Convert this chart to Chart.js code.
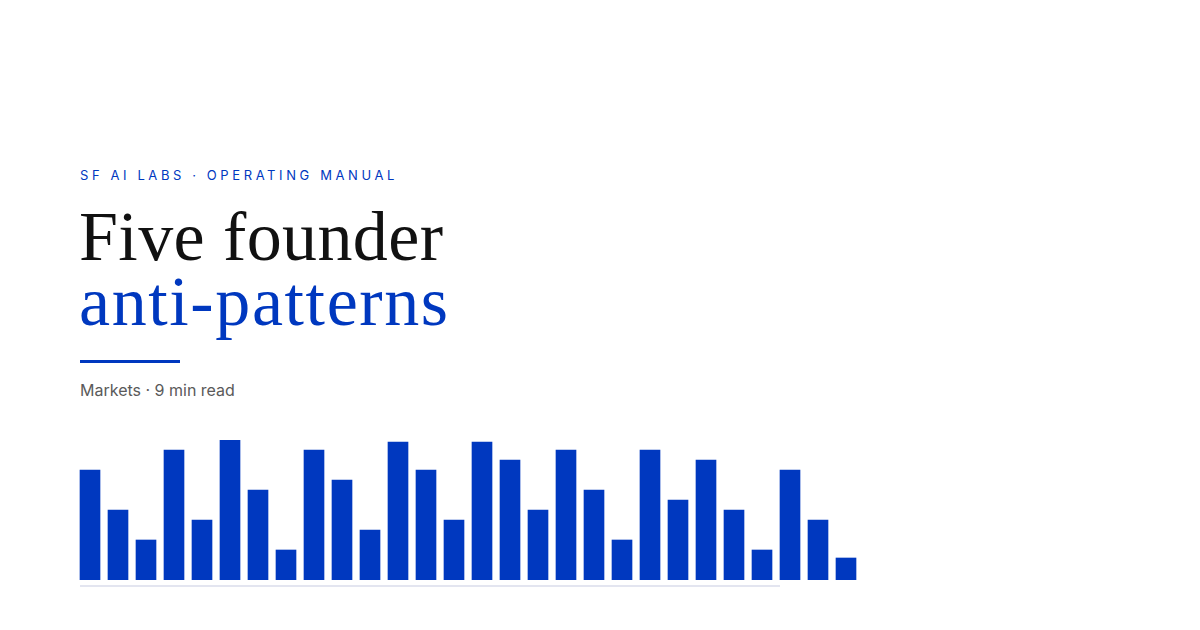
<!DOCTYPE html>
<html lang="en">
<head>
  <meta charset="UTF-8" />
  <title>Five founder anti-patterns</title>
  <script src="https://cdn.jsdelivr.net/npm/chart.js"></script>
  <style>
    html, body {
      margin: 0;
      padding: 0;
      width: 1200px;
      height: 630px;
      background: #ffffff;
      overflow: hidden;
    }
    .kicker {
      position: absolute;
      left: 80px;
      top: 166px;
      font-family: Inter, "Noto Sans", sans-serif;
      font-size: 13px;
      line-height: 18px;
      letter-spacing: 3.6px;
      color: #0038bf;
      white-space: nowrap;
    }
    .title {
      position: absolute;
      left: 79px;
      margin: 0;
      font-family: "Liberation Serif", "DejaVu Serif", serif;
      font-weight: normal;
      font-size: 70px;
      line-height: 62px;
      height: 62px;
      white-space: nowrap;
    }
    .t1 { top: 206px; color: #111111; letter-spacing: 0.4px; }
    .t2 { top: 271px; color: #0038bf; letter-spacing: 1.6px; }
    .rule {
      position: absolute;
      left: 80px;
      top: 360px;
      width: 100px;
      height: 3px;
      background: #0038bf;
    }
    .meta {
      position: absolute;
      left: 80px;
      top: 380px;
      font-family: Inter, "Noto Sans", sans-serif;
      font-size: 16px;
      line-height: 20px;
      color: #5a5a5a;
      white-space: nowrap;
    }
    .chart-box {
      position: absolute;
      left: 76px;
      top: 440px;
      width: 784px;
      height: 140px;
    }
    .baseline {
      position: absolute;
      left: 80px;
      top: 585px;
      width: 700px;
      height: 2px;
      background: #e3e5f0;
    }
  </style>
</head>
<body>

  <div class="kicker">SF AI LABS · OPERATING MANUAL</div>
  <div class="title t1">Five founder</div>
  <div class="title t2">anti-patterns</div>
  <div class="rule"></div>
  <div class="meta">Markets · 9 min read</div>

  <div class="chart-box">
    <canvas id="bars"></canvas>
  </div>
  <div class="baseline"></div>

  <script>
    // alturas das barras (px acima da base)
    const labels = ['1','2','3','4','5','6','7','8','9','10','11','12','13','14',
                    '15','16','17','18','19','20','21','22','23','24','25','26','27','28'];
    const values = [110, 70, 40, 130, 60, 140, 90, 30, 130, 100, 50, 138, 110, 60,
                    138, 120, 70, 130, 90, 40, 130, 80, 120, 70, 30, 110, 60, 22];
    const yMax = 140;

    const ctx = document.getElementById('bars').getContext('2d');
    new Chart(ctx, {
      type: 'bar',
      data: {
        labels,
        datasets: [{
          data: values,
          backgroundColor: '#0038bf',
          borderWidth: 0,
          barThickness: 20,
          categoryPercentage: 1,
          barPercentage: 1
        }]
      },
      options: {
        responsive: true,
        maintainAspectRatio: false,
        animation: false,
        layout: { padding: 0 },
        scales: {
          x: { display: false },
          y: { display: false, min: 0, max: yMax }
        },
        plugins: {
          legend: { display: false },
          tooltip: { enabled: false }
        }
      }
    });
  </script>
</body>
</html>
